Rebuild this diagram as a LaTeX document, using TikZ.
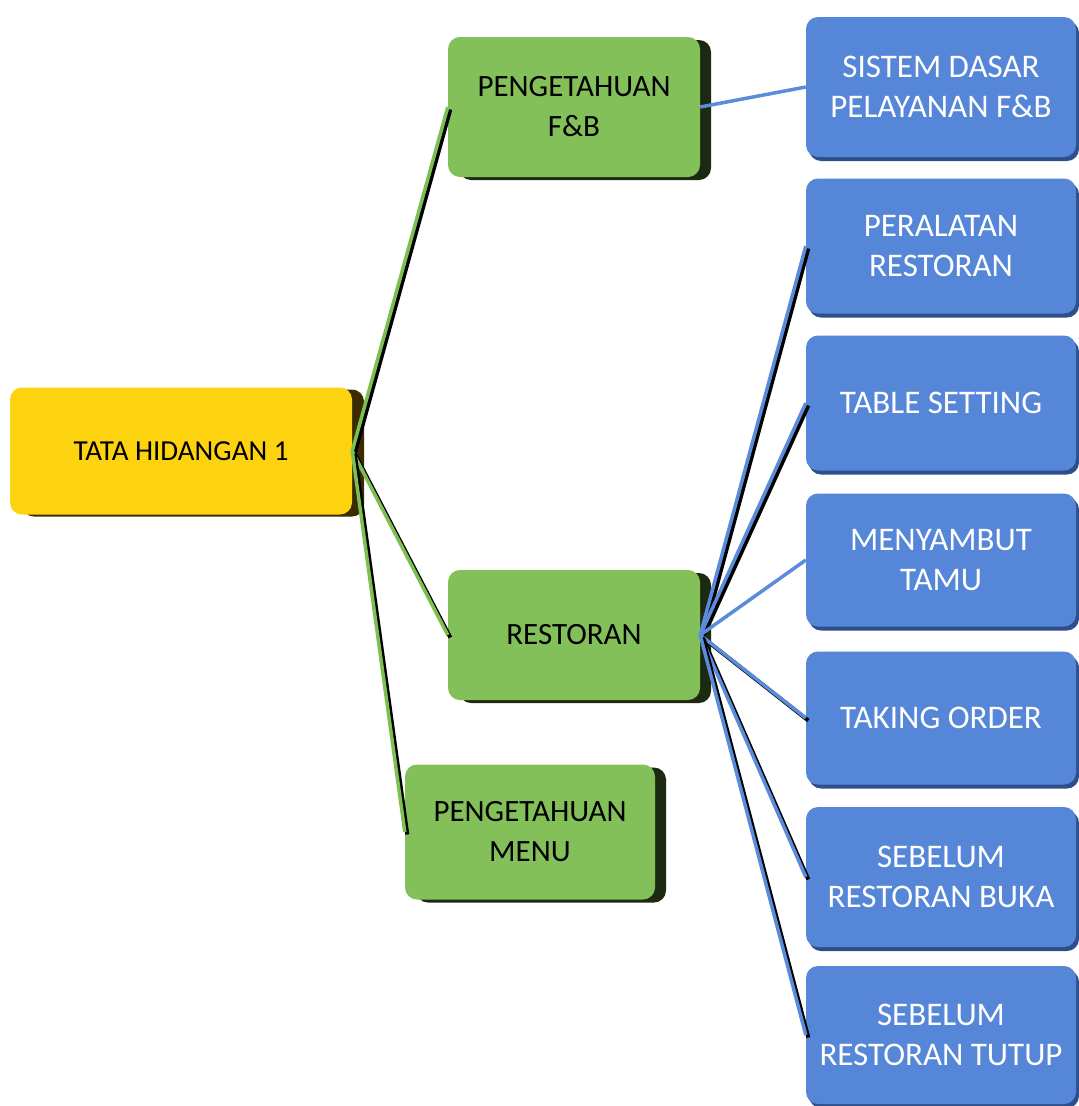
\documentclass[tikz,border=0pt]{standalone}
\usepackage{fontspec}
\setmainfont{Carlito}
\usetikzlibrary{shadows}
\definecolor{cyel}{HTML}{FDD30F}
\definecolor{cyelside}{HTML}{3A2C00}
\definecolor{cgrn}{HTML}{84C05A}
\definecolor{cgrnside}{HTML}{1C2A12}
\definecolor{cblu}{HTML}{5686D8}
\definecolor{cbluside}{HTML}{2F4F8A}
\definecolor{lgrn}{HTML}{7CC052}
\definecolor{lblu}{HTML}{5B8BDB}
\tikzset{
  basebox/.style={rectangle, rounded corners=12pt, align=center, inner sep=0pt},
  yelbox/.style={basebox, fill=cyel, text=black, font=\fontsize{29}{40}\selectfont,
    general shadow={fill=cyelside, shadow xshift=12pt, shadow yshift=-2pt}},
  grnbox/.style={basebox, fill=cgrn, text=black, font=\fontsize{31}{40}\selectfont,
    general shadow={fill=cgrnside, shadow xshift=11pt, shadow yshift=-3pt}},
  blubox/.style={basebox, fill=cblu, text=white, minimum width=270pt,
    font=\fontsize{33}{40}\selectfont,
    general shadow={fill=cbluside, shadow xshift=3pt, shadow yshift=-4pt}},
  shadline/.style={line width=4pt, black},
}
\newcommand\myconn[3]{%
  \draw[shadline] ([shift={(2.5,2.5)}]#1) -- ([shift={(2.5,2.5)}]#2);
  \draw[line width=3.5pt, #3] (#1) -- (#2);}
\begin{document}
\begin{tikzpicture}[x=1pt,y=-1pt]
\useasboundingbox (0,0) rectangle (1079,1106);
\node[yelbox, minimum width=342pt, minimum height=127pt] (root) at (181,451) {TATA HIDANGAN 1};
\node[grnbox, minimum width=252pt, minimum height=140pt] (fb) at (574,107) {PENGETAHUAN\\F\&B};
\node[grnbox, minimum width=252pt, minimum height=130pt] (rest) at (574,635) {RESTORAN};
\node[grnbox, minimum width=250pt, minimum height=135pt] (menu) at (530,832) {PENGETAHUAN\\MENU};
\node[blubox, minimum height=140pt] (b1) at (941,87) {SISTEM DASAR\\PELAYANAN F\&B};
\node[blubox, minimum height=135pt] (b2) at (941,246) {PERALATAN\\RESTORAN};
\node[blubox, minimum height=135pt] (b3) at (941,403) {TABLE SETTING};
\node[blubox, minimum height=133pt] (b4) at (941,560) {MENYAMBUT\\TAMU};
\node[blubox, minimum height=133pt] (b5) at (941,718) {TAKING ORDER};
\node[blubox, minimum height=140pt] (b6) at (941,877) {SEBELUM\\RESTORAN BUKA};
\node[blubox, minimum height=138pt] (b7) at (941,1035) {SEBELUM\\RESTORAN TUTUP};
\myconn{root.east}{fb.west}{lgrn}
\myconn{root.east}{rest.west}{lgrn}
\myconn{root.east}{menu.west}{lgrn}
\draw[line width=3.5pt, lblu] (fb.east) -- (b1.west);
\myconn{rest.east}{b2.west}{lblu}
\myconn{rest.east}{b3.west}{lblu}
\draw[line width=3.5pt, lblu] (rest.east) -- (b4.west);
\myconn{rest.east}{b5.west}{lblu}
\myconn{rest.east}{b6.west}{lblu}
\myconn{rest.east}{b7.west}{lblu}
\end{tikzpicture}
\end{document}
